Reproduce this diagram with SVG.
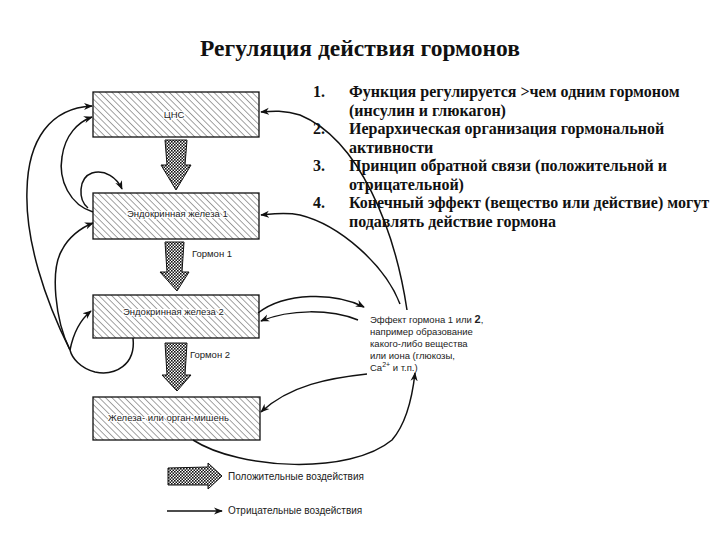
<svg xmlns="http://www.w3.org/2000/svg" width="720" height="540" viewBox="0 0 720 540">
<style>
.title{font-family:"Liberation Serif","Times New Roman",serif;font-weight:bold;font-size:23.5px;fill:#111}
.list{font-family:"Liberation Serif","Times New Roman",serif;font-weight:bold;font-size:16px;fill:#111}
.box{fill:url(#hatch);stroke:#111;stroke-width:1.3}
.blabel{font-family:"Liberation Sans",Arial,sans-serif;font-size:9.5px;fill:#222;stroke:#fff;stroke-width:2.2;paint-order:stroke}
.small{font-family:"Liberation Sans",Arial,sans-serif;font-size:9.5px;fill:#222}
.leg{font-family:"Liberation Sans",Arial,sans-serif;font-size:10px;fill:#222}
.big{fill:url(#check);stroke:#111;stroke-width:1}
.con{fill:none;stroke:#111;stroke-width:1.5;marker-end:url(#ah)}
</style>
<defs>
<pattern id="hatch" width="4.5" height="4.5" patternUnits="userSpaceOnUse" patternTransform="rotate(-45)">
<rect width="4.5" height="4.5" fill="#fff"/>
<line x1="0" y1="0" x2="0" y2="4.5" stroke="#333" stroke-width="0.9"/>
</pattern>
<pattern id="check" width="3" height="3" patternUnits="userSpaceOnUse">
<rect width="3" height="3" fill="#fff"/>
<rect width="1.6" height="1.6" fill="#111"/>
<rect x="1.5" y="1.5" width="1.5" height="1.5" fill="#111"/>
</pattern>
<marker id="ah" viewBox="0 0 10 10" refX="9" refY="5" markerWidth="9" markerHeight="9" markerUnits="userSpaceOnUse" orient="auto">
<path d="M0,1 L10,5 L0,9 L3,5 z" fill="#111"/>
</marker>
</defs>
<rect width="720" height="540" fill="#fff"/>

<g id="title"><text class="title" x="360" y="56" text-anchor="middle">Регуляция действия гормонов</text></g>

<g id="list" class="list">
<text x="313" y="97">1.</text><text x="349" y="97">Функция регулируется &gt;чем одним гормоном</text>
<text x="349" y="115.5">(инсулин и глюкагон)</text>
<text x="313" y="134">2.</text><text x="349" y="134">Иерархическая организация гормональной</text>
<text x="349" y="152.5">активности</text>
<text x="313" y="171">3.</text><text x="349" y="171">Принцип обратной связи (положительной и</text>
<text x="349" y="189.5">отрицательной)</text>
<text x="313" y="208">4.</text><text x="349" y="208">Конечный эффект (вещество или действие) могут</text>
<text x="349" y="226.5">подавлять действие гормона</text>
</g>

<g id="cns"><rect class="box" x="93" y="92" width="166" height="45"/><text class="blabel" x="174" y="118" text-anchor="middle">ЦНС</text></g>
<g id="gland1"><rect class="box" x="93" y="193" width="166" height="46"/><text class="blabel" x="127" y="217">Эндокринная железа 1</text></g>
<g id="gland2"><rect class="box" x="93" y="295" width="166" height="43"/><text class="blabel" x="123" y="315">Эндокринная железа 2</text></g>
<g id="target"><rect class="box" x="93" y="397" width="167" height="43"/><text class="blabel" x="108" y="421">Железа- или орган-мишень</text></g>

<g id="effect" class="small">
<text x="370" y="323">Эффект гормона 1 или <tspan font-weight="bold" font-size="11px">2</tspan>,</text>
<text x="370" y="335">например образование</text>
<text x="370" y="347">какого-либо вещества</text>
<text x="370" y="359">или иона (глюкозы,</text>
<text x="370" y="371">Ca<tspan font-size="7px" dy="-4">2+</tspan><tspan dy="4"> и т.п.)</tspan></text>
</g>

<g id="hormones">
<polygon class="big" points="165,140 187,140 185,165 191,165 176,190 161,165 167,165"/>
<polygon class="big" points="165,242 184,242 182,272 189,272 177,291 160,272 167,272"/>
<text class="small" x="192" y="257">Гормон 1</text>
<polygon class="big" points="165,343 187,343 185,375 191,375 177,391 162,375 167,375"/>
<text class="small" x="190" y="358">Гормон 2</text>
</g>

<g id="connectors">
<path class="con" style="marker-end:none" d="M133 338 C136 365 115 376 95 372 C80 368 72 358 70 350"/>
<path class="con" d="M70 350 C45 300 25 240 27 190 C28 140 50 108 92 106"/>
<path class="con" d="M70 350 C55 320 50 270 62 250 C68 238 80 228 93 223"/>
<path class="con" d="M70 350 C73 335 80 320 91 311"/>
<path class="con" d="M93 212 C70 205 58 180 62 157 C65 135 78 122 92 117"/>
<path class="con" d="M88 208 C78 200 78 178 92 173 C105 169 117 178 122 189"/>
<path class="con" d="M407 310 C395 230 360 140 300 115 C285 110 272 111 261 112"/>
<path class="con" d="M400 304 C385 265 340 225 300 215 C285 212 272 214 261 215"/>
<path class="con" d="M258 313 C285 292 335 292 364 307"/>
<path class="con" d="M358 320 C330 309 290 309 261 321"/>
<path class="con" d="M367 374 C330 378 290 385 261 412"/>
<path class="con" d="M193 440 C240 470 350 475 392 440 C405 425 412 400 415 373"/>
</g>

<g id="legend">
<polygon class="big" points="168,468 208,467 208,463 222,476 208,489 208,485 168,485"/>
<text class="leg" x="228" y="480">Положительные воздействия</text>
<path class="con" d="M167 511 L222 511"/>
<text class="leg" x="228" y="514">Отрицательные воздействия</text>
</g>
</svg>
